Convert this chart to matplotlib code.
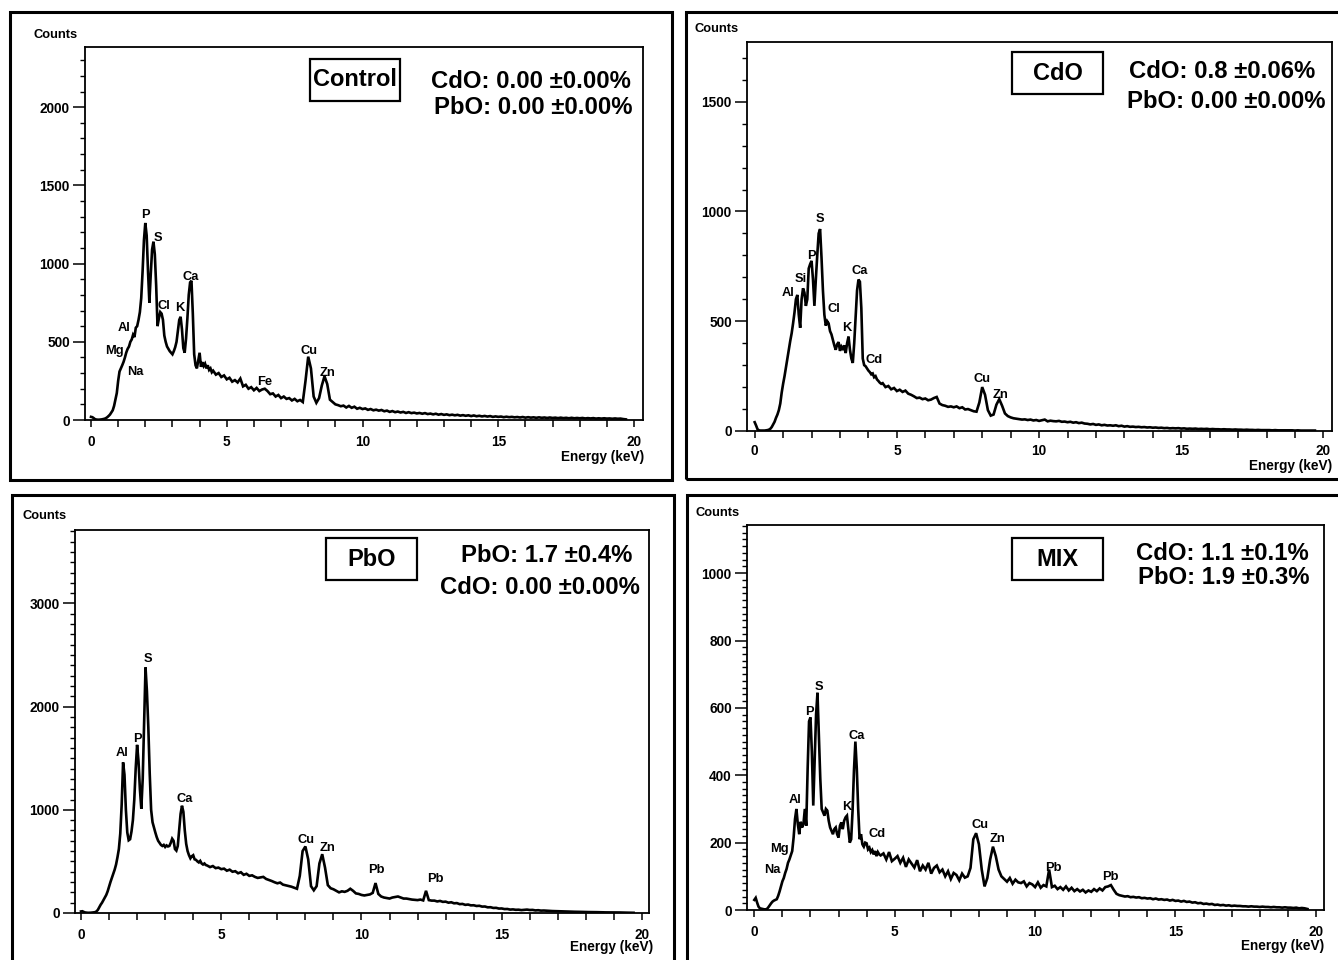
import numpy as np
import matplotlib
matplotlib.use("Agg")
import matplotlib.pyplot as plt
from matplotlib.patches import Rectangle
from matplotlib.ticker import MultipleLocator

plt.rcParams['font.family'] = ['Liberation Sans', 'DejaVu Sans']
plt.rcParams['font.weight'] = 'bold'

# ---------------- data ----------------
# energy channels (keV): 0.05 keV steps 0-4.5, then 0.1 keV steps 4.6-19.7
energy_keV = np.concatenate([np.round(np.arange(91) * 0.05, 2),
                             np.round(4.6 + np.arange(152) * 0.1, 2)])

control_counts = [
    20, 18, 12, 5, 3, 2, 2, 3, 4, 6,
    8, 12, 18, 26, 35, 48, 62, 90, 130, 172,
    250, 310, 330, 350, 372, 400, 432, 455, 470, 500,
    515, 545, 530, 590, 600, 640, 690, 780, 950, 1150,
    1260, 1180, 950, 750, 930, 1090, 1140, 1060, 860, 600,
    650, 690, 680, 640, 540, 500, 470, 455, 440, 430,
    420, 440, 465, 500, 570, 640, 660, 580, 460, 430,
    520, 650, 800, 880, 890, 680, 420, 350, 330, 380,
    430, 340, 370, 345, 360, 330, 350, 320, 330, 305,
    315,
    290, 300, 275, 285, 260, 270, 245, 255, 240, 265,
    215, 225, 200, 210, 190, 205, 185, 195, 200, 185,
    165, 170, 150, 160, 140, 150, 135, 140, 125, 135,
    120, 128, 115, 250, 405, 330, 150, 110, 140, 220,
    280, 230, 130, 115, 100, 95, 88, 92, 80, 90,
    78, 85, 72, 78, 70, 74, 65, 70, 62, 66,
    60, 64, 56, 60, 52, 57, 50, 54, 48, 52,
    45, 50, 44, 47, 42, 45, 40, 44, 38, 41,
    36, 40, 34, 38, 33, 36, 31, 34, 30, 33,
    28, 31, 27, 30, 25, 29, 24, 27, 23, 26,
    22, 25, 20, 23, 20, 22, 18, 21, 18, 20,
    17, 19, 16, 19, 15, 18, 15, 17, 14, 17,
    14, 16, 13, 16, 13, 15, 12, 15, 12, 14,
    11, 14, 11, 13, 11, 13, 10, 12, 10, 12,
    9, 11, 9, 11, 9, 10, 8, 10, 8, 9,
    6, 4,
]

cdo_counts = [
    40, 25, 8, 3, 2, 2, 2, 2, 3, 4,
    6, 10, 18, 30, 42, 60, 75, 95, 125, 175,
    215, 250, 290, 330, 370, 410, 445, 490, 540, 600,
    620, 530, 470, 600, 650, 630, 570, 600, 740, 760,
    775, 690, 570, 690, 800, 900, 920, 790, 640, 530,
    480, 500, 490, 455, 440, 415, 390, 370, 395, 405,
    365, 385, 375, 390, 355, 400, 430, 370, 330, 310,
    400, 520, 640, 690, 680, 560, 330, 300, 295, 285,
    275, 268, 258, 262, 245, 250, 235, 228, 220, 215,
    218,
    200, 205, 190, 196, 182, 188, 178, 184, 170, 165,
    158, 150, 152, 145, 148, 140, 143, 150, 155, 125,
    118, 115, 110, 112, 108, 112, 104, 108, 98, 100,
    95, 90, 88, 130, 200, 165, 95, 70, 75, 120,
    145, 115, 80, 68, 62, 58, 56, 54, 52, 53,
    50, 52, 48, 50, 46, 49, 52, 44, 47, 45,
    44, 46, 42, 43, 40, 42, 38, 40, 36, 38,
    34, 33, 30, 32, 28, 30, 26, 28, 25, 26,
    24, 26, 22, 24, 20, 22, 19, 20, 18, 19,
    17, 18, 16, 17, 15, 16, 14, 15, 13, 14,
    12, 13, 12, 13, 11, 12, 10, 11, 10, 11,
    9, 10, 9, 10, 8, 9, 8, 8, 7, 8,
    7, 7, 6, 7, 6, 6, 5, 6, 5, 5,
    4, 5, 4, 4, 4, 4, 3, 4, 3, 3,
    3, 3, 3, 3, 2, 3, 2, 2, 2, 2,
    2, 2,
]

pbo_counts = [
    15, 17, 10, 5, 3, 2, 2, 3, 4, 6,
    8, 15, 30, 55, 80, 100, 125, 150, 175, 210,
    255, 300, 340, 380, 420, 470, 540, 620, 770, 1050,
    1460, 1340, 1000, 780, 705, 715, 790, 900, 1100, 1400,
    1630, 1470, 1200, 1010, 1300, 1850, 2380, 2150, 1800, 1350,
    1000, 880, 830, 780, 735, 700, 680, 660, 650, 660,
    640, 655, 645, 650, 680, 720, 700, 620, 605, 650,
    800, 960, 1040, 980, 800, 670, 600, 560, 530, 550,
    560, 520, 515, 500, 490, 505, 480, 470, 480, 465,
    460,
    445, 455, 435, 440, 425, 430, 410, 420, 400, 405,
    385, 395, 370, 380, 360, 365, 350, 340, 345, 350,
    330, 320, 310, 298, 288, 295, 275, 268, 262, 255,
    245, 235, 360, 600, 645, 520, 260, 220, 260, 480,
    570, 440, 270, 240, 230, 215, 200, 210, 205, 215,
    235, 215, 190, 185, 175, 170, 175, 180, 195, 290,
    185, 160, 150, 145, 140, 150, 155, 160, 150, 140,
    140, 135, 130, 128, 125, 130, 122, 215, 125, 120,
    120, 112, 117, 108, 110, 100, 104, 94, 96, 86,
    88, 79, 82, 74, 75, 68, 70, 62, 63, 55,
    56, 49, 50, 43, 44, 38, 39, 33, 35, 31,
    32, 28, 31, 33, 29, 30, 25, 27, 23, 24,
    22, 20, 19, 18, 17, 16, 15, 14, 14, 13,
    12, 12, 11, 10, 10, 9, 9, 8, 8, 7,
    7, 6, 6, 6, 5, 5, 5, 4, 4, 3,
    3, 2,
]

mix_counts = [
    30, 36, 22, 10, 5, 4, 3, 2, 2, 3,
    8, 14, 20, 25, 28, 30, 32, 42, 55, 70,
    85, 95, 110, 122, 140, 150, 162, 175, 215, 270,
    300, 255, 225, 262, 245, 255, 300, 250, 420, 560,
    572, 470, 310, 440, 580, 645, 520, 390, 300, 290,
    280, 300, 295, 265, 245, 235, 225, 240, 245, 225,
    215, 250, 260, 240, 265, 275, 280, 240, 200, 210,
    295, 415, 500, 420, 300, 210, 225, 195, 188, 200,
    198, 180, 185, 172, 178, 165, 175, 160, 172, 165,
    162,
    168, 150, 172, 145, 152, 160, 140, 155, 128, 150,
    138, 126, 148, 115, 132, 120, 140, 108, 125, 132,
    112, 120, 100, 115, 92, 110, 104, 88, 108, 96,
    100, 125, 210, 228, 195, 120, 70, 95, 150, 188,
    160, 120, 100, 92, 84, 95, 78, 90, 82, 80,
    85, 70, 80, 76, 68, 82, 66, 74, 70, 120,
    68, 72, 62, 68, 60, 70, 58, 66, 56, 62,
    55, 60, 52, 58, 54, 62, 56, 64, 58, 68,
    70, 74, 60, 48, 44, 42, 40, 41, 38, 39,
    37, 38, 35, 36, 34, 35, 32, 34, 31, 32,
    30, 31, 28, 30, 27, 28, 25, 27, 24, 25,
    22, 23, 20, 21, 18, 19, 17, 18, 15, 16,
    14, 15, 13, 14, 12, 13, 12, 12, 11, 11,
    10, 11, 10, 10, 9, 10, 9, 9, 8, 9,
    8, 8, 7, 8, 7, 7, 6, 7, 5, 6,
    5, 3,
]

sample_names = ["Control", "CdO", "PbO", "MIX"]
composition_lines = [
    ["CdO: 0.00 \u00b10.00%", "PbO: 0.00 \u00b10.00%"],
    ["CdO: 0.8 \u00b10.06%", "PbO: 0.00 \u00b10.00%"],
    ["PbO: 1.7 \u00b10.4%", "CdO: 0.00 \u00b10.00%"],
    ["CdO: 1.1 \u00b10.1%", "PbO: 1.9 \u00b10.3%"],
]

# element labels: (symbol, keV, counts) anchor of each label
control_peaks = [("P", 1.99, 1310), ("S", 2.46, 1165), ("Ca", 3.68, 916), ("Cl", 2.69, 728),
                 ("K", 3.28, 714), ("Al", 1.23, 586), ("Mg", 0.88, 443), ("Na", 1.65, 309),
                 ("Fe", 6.41, 245), ("Cu", 8.03, 443), ("Zn", 8.70, 298)]
cdo_peaks = [("S", 2.31, 967), ("P", 1.98, 798), ("Si", 1.62, 693), ("Al", 1.16, 628),
             ("Ca", 3.68, 731), ("Cl", 2.80, 555), ("K", 3.22, 468), ("Cd", 4.20, 324),
             ("Cu", 8.00, 236), ("Zn", 8.65, 164)]
pbo_peaks = [("S", 2.38, 2458), ("P", 2.02, 1691), ("Al", 1.45, 1546), ("Ca", 3.68, 1103),
             ("Cu", 8.01, 705), ("Zn", 8.78, 631), ("Pb", 10.54, 421), ("Pb", 12.62, 333)]
mix_peaks = [("S", 2.30, 663), ("P", 1.95, 589), ("Ca", 3.65, 518), ("Al", 1.44, 327),
             ("K", 3.28, 307), ("Cd", 4.37, 226), ("Mg", 0.90, 180), ("Na", 0.63, 119),
             ("Cu", 8.03, 252), ("Zn", 8.65, 210), ("Pb", 10.64, 126), ("Pb", 12.69, 99)]

# ---------------- layout (pixel geometry) ----------------
W, H = 1338, 960
fig = plt.figure(figsize=(W / 100, H / 100), dpi=100)


def fx(x):
    return x / W


def fy(y):
    return 1 - y / H


panels = [
    dict(counts=control_counts, peaks=control_peaks, ax=(85, 47, 643, 420),
         xlim=(-0.221, 20.33), ylim=(0, 2385), ymaj=500, ymin=100,
         frame=(10, 12, 672, 480), box=(310, 59, 400, 101),
         pct=[(531, 82), (533, 108)], counts_lbl=(56, 35),
         energy_lbl=(644, 457, 'right'), xpad=5.5),
    dict(counts=cdo_counts, peaks=cdo_peaks, ax=(747, 42, 1332, 431),
         xlim=(-0.27, 20.30), ylim=(0, 1772), ymaj=500, ymin=100,
         frame=(686, 12, 1342, 479), box=(1012, 52, 1103, 94),
         pct=[(1222, 72), (1226, 102)], counts_lbl=(717, 29),
         energy_lbl=(1249, 466, 'left'), xpad=4.5),
    dict(counts=pbo_counts, peaks=pbo_peaks, ax=(75, 530, 649, 913),
         xlim=(-0.214, 20.25), ylim=(0, 3712), ymaj=1000, ymin=100,
         frame=(12, 495, 674, 970), box=(326, 538, 417, 580),
         pct=[(547, 555), (540, 587)], counts_lbl=(45, 516),
         energy_lbl=(653, 947, 'right'), xpad=5.5),
    dict(counts=mix_counts, peaks=mix_peaks, ax=(747, 525, 1324, 910),
         xlim=(-0.26, 20.29), ylim=(0, 1143), ymaj=200, ymin=20,
         frame=(687, 495, 1342, 970), box=(1012, 538, 1103, 580),
         pct=[(1222, 553), (1224, 578)], counts_lbl=(718, 513),
         energy_lbl=(1324, 946, 'right'), xpad=5.5),
]

for i, p in enumerate(panels):
    # outer frame
    x0, y0, x1, y1 = p['frame']
    fig.patches.append(Rectangle((fx(x0), fy(y1)), (x1 - x0) / W, (y1 - y0) / H,
                                 transform=fig.transFigure, fill=False,
                                 edgecolor='black', linewidth=2.2, zorder=0))
    # axes
    a0, b0, a1, b1 = p['ax']
    ax = fig.add_axes([fx(a0), fy(b1), (a1 - a0) / W, (b1 - b0) / H])
    ax.plot(energy_keV, p['counts'], color='black', linewidth=1.9,
            solid_joinstyle='miter')
    ax.set_xlim(*p['xlim'])
    ax.set_ylim(*p['ylim'])
    for s in ax.spines.values():
        s.set_linewidth(1.3)
    ax.xaxis.set_major_locator(MultipleLocator(5))
    ax.xaxis.set_minor_locator(MultipleLocator(1))
    ax.yaxis.set_major_locator(MultipleLocator(p['ymaj']))
    ax.yaxis.set_minor_locator(MultipleLocator(p['ymin']))
    ax.tick_params(axis='y', which='major', direction='out', length=9, width=1.1,
                   pad=2, labelsize=9.8)
    ax.tick_params(axis='y', which='minor', direction='out', length=3.5, width=1.0)
    ax.tick_params(axis='x', which='both', direction='out', length=5, width=1.1)
    ax.tick_params(axis='x', which='major', pad=p['xpad'], labelsize=9.8)
    for lab in ax.get_xticklabels() + ax.get_yticklabels():
        lab.set_fontweight('bold')

    # element labels
    for sym, e, c in p['peaks']:
        ax.text(e, c, sym, ha='center', va='center', fontsize=9.3, fontweight='bold')

    # sample name box
    bx0, by0, bx1, by1 = p['box']
    fig.patches.append(Rectangle((fx(bx0), fy(by1)), (bx1 - bx0) / W, (by1 - by0) / H,
                                 transform=fig.transFigure, fill=False,
                                 edgecolor='black', linewidth=1.6, zorder=5))
    fig.text(fx((bx0 + bx1) / 2), fy((by0 + by1) / 2), sample_names[i],
             ha='center', va='center', fontsize=17, fontweight='bold')

    # composition text
    for (tx, ty), line in zip(p['pct'], composition_lines[i]):
        fig.text(fx(tx), fy(ty), line, ha='center', va='center',
                 fontsize=17.2, fontweight='bold')

    # axis titles
    cx, cy = p['counts_lbl']
    fig.text(fx(cx), fy(cy), "Counts", ha='center', va='center',
             fontsize=9.3, fontweight='bold')
    ex, ey, eha = p['energy_lbl']
    fig.text(fx(ex), fy(ey), "Energy (keV)", ha=eha, va='center',
             fontsize=9.8, fontweight='bold')

fig.savefig("out.png", dpi=100)
